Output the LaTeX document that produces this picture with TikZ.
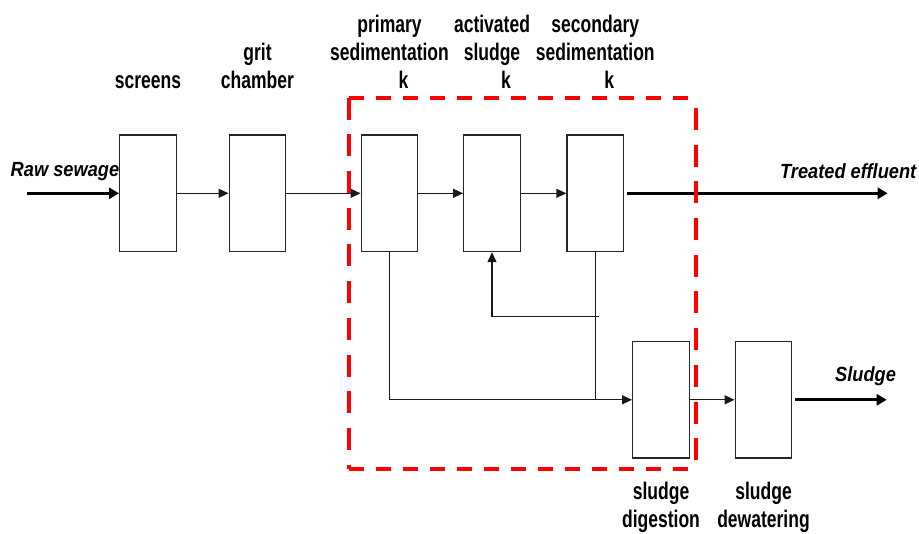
\documentclass[tikz,border=0pt]{standalone}
\usepackage{fontspec}
\setmainfont{Liberation Sans}
\newfontfamily\lblfont[FakeStretch=0.73]{Liberation Sans}
\newfontfamily\flowfont[FakeStretch=0.89]{Liberation Sans}
\usetikzlibrary{arrows.meta,calc}

\begin{document}
\begin{tikzpicture}[x=1pt,y=-1pt,
  unit/.style={draw=black!85, line width=1.4pt, minimum width=56.5pt,
    minimum height=116.5pt, inner sep=0pt, fill=white},
  stagelbl/.style={anchor=south, inner sep=0pt, text depth=0pt, align=center,
    font=\lblfont\bfseries\fontsize{24}{28}\selectfont},
  flowlbl/.style={inner sep=0pt, font=\flowfont\bfseries\itshape\fontsize{20.5}{24}\selectfont},
  pipe/.style={draw=black!90, line width=1.4pt},
  flow/.style={pipe, -{Triangle[length=10pt,width=9pt]}},
  bigflow/.style={draw=black, line width=3.3pt, -{Triangle[length=10pt,width=11pt]}},
  redbox/.style={draw=red, line width=4.3pt},
  hdash/.style={redbox, dash pattern=on 15pt off 12pt},
  vdash/.style={redbox, dash pattern=on 22pt off 14.7pt}
]
\useasboundingbox (0,0) rectangle (919,534);

% treatment units
\node[unit] (screens) at (148,193.3) {};
\node[unit] (grit)    at (257.5,193.3) {};
\node[unit] (prim)    at (389.5,193.3) {};
\node[unit] (act)     at (492,193.3) {};
\node[unit] (sec)     at (595.3,193.3) {};
\node[unit] (dig)     at (661,399.8) {};
\node[unit] (dew)     at (763.5,399.8) {};

% unit names
\node[stagelbl] (screenslbl) at (148,88.5) {screens};
\node[stagelbl] (gritlbl)    at (257.5,88.5) {grit\\chamber};
\node[stagelbl] (primlbl)    at (389.5,88.5) {primary\\sedimentation\\\hspace*{28pt}k};
\node[stagelbl] (actlbl)     at (492,88.5) {activated\\sludge\\\hspace*{28pt}k};
\node[stagelbl] (seclbl)     at (595.3,88.5) {secondary\\sedimentation\\\hspace*{28pt}k};
\node[stagelbl] (diglbl)     at (661,527.7) {sludge\\digestion};
\node[stagelbl] (dewlbl)     at (763.5,527.7) {sludge\\dewatering};

% stream names
\node[flowlbl, anchor=base] (rawlbl) at (65,177) {Raw sewage};
\node[flowlbl, anchor=base east] (efflbl) at (916.5,178.5) {Treated effluent};
\node[flowlbl, anchor=base west] (sludgelbl) at (835,381.5) {Sludge};

% free ends of the streams
\coordinate (rawin) at (26.7,193.3);
\coordinate (effout) at (887.7,193.3);
\coordinate (sludgeout) at (886.7,399.8);
\coordinate (rec) at (598.5,316.5);

% liquid line
\draw[bigflow] (rawin) -- (screens.west);
\draw[flow] (screens.east) -- (grit.west);
\draw[flow] (grit.east) -- (prim.west);
\draw[flow] (prim.east) -- (act.west);
\draw[flow] (act.east) -- (sec.west);
\draw[bigflow, shorten <=3pt] (sec.east) -- (effout);

% sludge lines
\draw[flow] (prim.south) |- (dig.west);
\draw[pipe] (sec.south) -- (sec.south |- dig.west);
\draw[flow] (rec) -| (act.south);
\draw[flow] (dig.east) -- (dew.west);
\draw[bigflow, shorten <=2.3pt] (dew.east) -- (sludgeout);

% dashed system boundary
\coordinate (bnw) at (349,97.7);
\coordinate (bne) at (691,97.7);
\coordinate (bsw) at (349,469);
\coordinate (bse) at (690,469);
\coordinate (bre) at (695.7,108);
\coordinate (brs) at (695.7,469);
\draw[hdash] (bnw) -- (bne);
\draw[vdash] (bnw) -- (bsw);
\draw[hdash] (bsw) -- (bse);
\draw[vdash] (bre) -- (brs);
\end{tikzpicture}
\end{document}
